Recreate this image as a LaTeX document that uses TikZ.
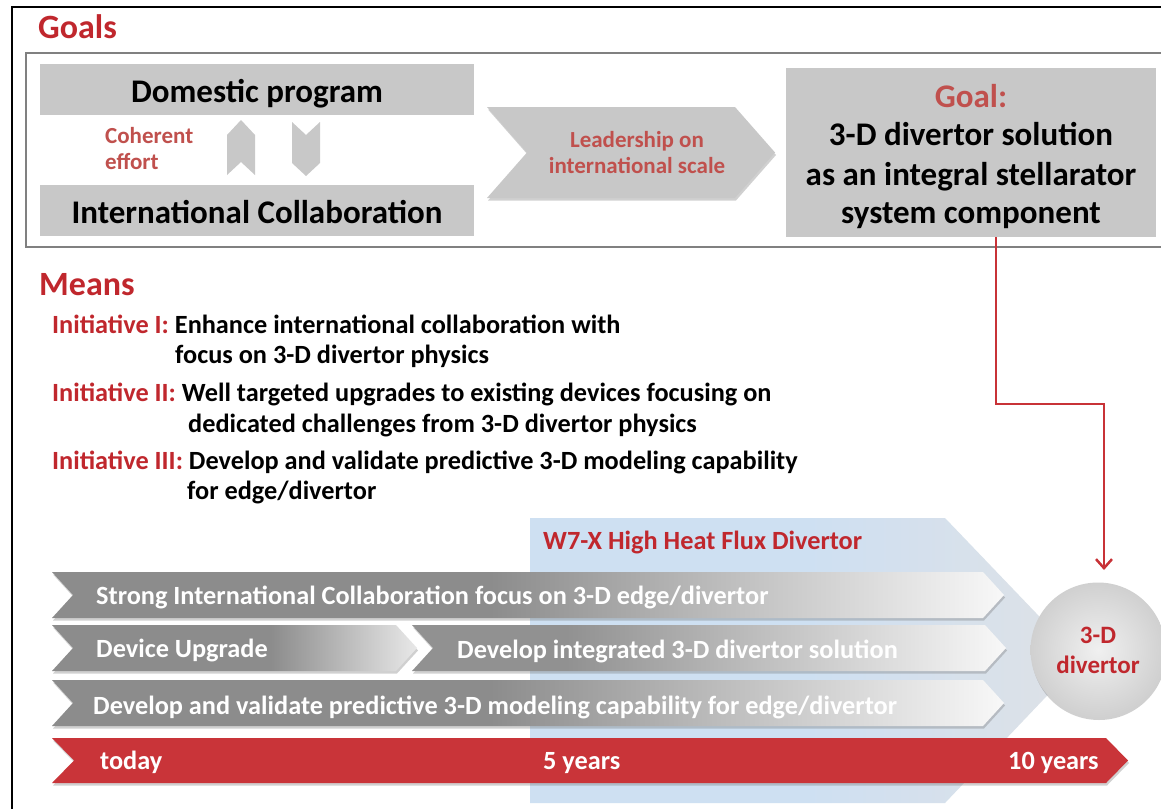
\documentclass[tikz,border=0pt]{standalone}
\usepackage{fontspec}
\setmainfont{Carlito}
\usetikzlibrary{arrows.meta,shadows}
\definecolor{titlered}{RGB}{192,39,45}
\definecolor{softred}{RGB}{192,80,77}
\definecolor{barred}{RGB}{201,52,57}
\definecolor{linered}{RGB}{200,50,55}
\definecolor{boxgray}{RGB}{200,200,200}
\definecolor{bardark}{RGB}{140,140,140}
\definecolor{barmid}{RGB}{145,145,145}
\definecolor{barlight}{RGB}{248,248,248}
\definecolor{barlight2}{RGB}{232,232,232}
\definecolor{blue1}{RGB}{206,224,242}
\definecolor{blue2}{RGB}{222,225,230}
\definecolor{ball1}{RGB}{240,240,240}
\definecolor{ball2}{RGB}{208,208,208}
\pgfdeclarehorizontalshading{barshade}{100bp}{color(0bp)=(bardark); color(48bp)=(bardark); color(75bp)=(barlight); color(100bp)=(barlight)}
\pgfdeclarehorizontalshading{devshade}{100bp}{color(0bp)=(bardark); color(55bp)=(bardark); color(75bp)=(barlight2); color(100bp)=(barlight2)}
\pgfdeclarehorizontalshading{intshade}{100bp}{color(0bp)=(barmid); color(38bp)=(barmid); color(75bp)=(barlight); color(100bp)=(barlight)}
\pgfdeclarehorizontalshading{blueshade}{100bp}{color(0bp)=(blue1); color(50bp)=(blue1); color(75bp)=(blue2); color(100bp)=(blue2)}
\newcommand{\chevron}[6][]{\path[#1] (#2,#4) -- ({#3-#6},#4) -- (#3,{(#4+#5)/2}) -- ({#3-#6},#5) -- (#2,#5) -- ({#2+#6},{(#4+#5)/2}) -- cycle;}
\tikzset{
  bshadow/.style={drop shadow={shadow xshift=1pt, shadow yshift=-2.5pt, opacity=0.3, fill=black!60}},
  graybar/.style={shade, shading=barshade, bshadow},
  devbar/.style={shade, shading=devshade, bshadow},
  intbar/.style={shade, shading=intshade, bshadow},
  redbar/.style={fill=barred, bshadow},
  bigtxt/.style={font=\bfseries\fontsize{33}{38}\selectfont, inner sep=0pt},
  midtxt/.style={font=\bfseries\fontsize{23}{26}\selectfont, inner sep=0pt, text=softred},
  initxt/.style={font=\bfseries\fontsize{26.3}{30}\selectfont, inner sep=0pt, anchor=base west},
  bartext/.style={font=\bfseries\fontsize{26.3}{30}\selectfont, inner sep=0pt, anchor=base west, text=white},
  title/.style={font=\bfseries\fontsize{34}{40}\selectfont, inner sep=0pt, anchor=base west, text=titlered},
  graybox/.style={fill=boxgray, draw=none, inner sep=0pt},
  conn/.style={draw=linered, line width=2.5pt, -{Straight Barb[length=9pt,width=16pt,line width=2.5pt]}}
}
\begin{document}
\begin{tikzpicture}[x=1pt,y=-1pt]
\useasboundingbox (0,0) rectangle (1161,808);
\fill[white] (0,0) rectangle (1161,808);
% frames
\draw[black, line width=2pt] (1175,7) -- (12,7) -- (12,820);
\draw[gray, line width=1.6pt] (1175,53) -- (26,53) -- (26,247) -- (1175,247);
% Goals
\node[title] (goals) at (38,39) {Goals};
\node[graybox, minimum width=434pt, minimum height=51pt] (dom) at (257,89.5) {};
\node[graybox, minimum width=434pt, minimum height=51pt] (intl) at (257,210.5) {};
\node[bigtxt, anchor=base] (domt) at (257,102) {Domestic program};
\node[bigtxt, anchor=base] (intlt) at (257,223) {International Collaboration};
\node[midtxt, anchor=base west] (coh1) at (105,143) {Coherent};
\node[midtxt, anchor=base west] (coh2) at (105,169) {effort};
\fill[boxgray] (227,135) -- (241,120) -- (255,135) -- (255,175) -- (241,162) -- (227,175) -- cycle;
\fill[boxgray] (292,122) -- (306,135) -- (320,122) -- (320,163) -- (306,176) -- (292,163) -- cycle;
\chevron[fill=boxgray, bshadow]{487}{775}{107}{198}{40}
\node[midtxt, anchor=base] (lead1) at (637,147) {Leadership on};
\node[midtxt, anchor=base] (lead2) at (637,173) {international scale};
\node[graybox, minimum width=370pt, minimum height=169pt] (goalbox) at (971,152.5) {};
\node[bigtxt, anchor=base, text=softred] (gl0) at (971,107) {Goal:};
\node[bigtxt, anchor=base] (gl1) at (971,145) {3-D divertor solution};
\node[bigtxt, anchor=base] (gl2) at (971,185) {as an integral stellarator};
\node[bigtxt, anchor=base] (gl3) at (971,223) {system component};
% Means
\node[title] (means) at (39,295) {Means};
\node[initxt] (i1a) at (52,333) {\textcolor{titlered}{Initiative I:} Enhance international collaboration with};
\node[initxt] (i1b) at (175,363) {focus on 3-D divertor physics};
\node[initxt] (i2a) at (52,401) {\textcolor{titlered}{Initiative II:} Well targeted upgrades to existing devices focusing on};
\node[initxt] (i2b) at (188,432) {dedicated challenges from 3-D divertor physics};
\node[initxt] (i3a) at (52,469) {\textcolor{titlered}{Initiative III:} Develop and validate predictive 3-D modeling capability};
\node[initxt] (i3b) at (187,499) {for edge/divertor};
% roadmap
\path[shade, shading=blueshade] (530,518) -- (945,518) -- (1081,660) -- (945,803) -- (530,803) -- cycle;
\node[initxt, text=titlered] (w7x) at (543,549) {W7-X High Heat Flux Divertor};
\chevron[graybar]{52}{1004}{572}{618}{21}
\chevron[intbar]{412}{1006}{625}{671}{21}
\chevron[devbar]{52}{417}{625}{671}{21}
\chevron[graybar]{52}{1004}{680}{726}{21}
\chevron[redbar]{52}{1128}{738}{783}{22}
\node[bartext] (r1) at (96,604) {Strong International Collaboration focus on 3-D edge/divertor};
\node[bartext] (r2a) at (96,657) {Device Upgrade};
\node[bartext] (r2b) at (457,658) {Develop integrated 3-D divertor solution};
\node[bartext] (r3) at (93,714) {Develop and validate predictive 3-D modeling capability for edge/divertor};
\node[bartext] (t0) at (100,769) {today};
\node[bartext] (t5) at (543,769) {5 years};
\node[bartext] (t10) at (1008,769) {10 years};
\node[circle, minimum size=135pt, inner sep=0pt, shade, inner color=ball1, outer color=ball2, bshadow,
      font=\bfseries\fontsize{25}{30}\selectfont, text=titlered, align=center] (div) at (1098,650) {3-D\\divertor};
% connector
\coordinate (k1) at (996,404);
\coordinate (k2) at (1104,570);
\draw[conn] (goalbox.south -| k1) -- (k1) -| (k2);
\end{tikzpicture}
\end{document}
